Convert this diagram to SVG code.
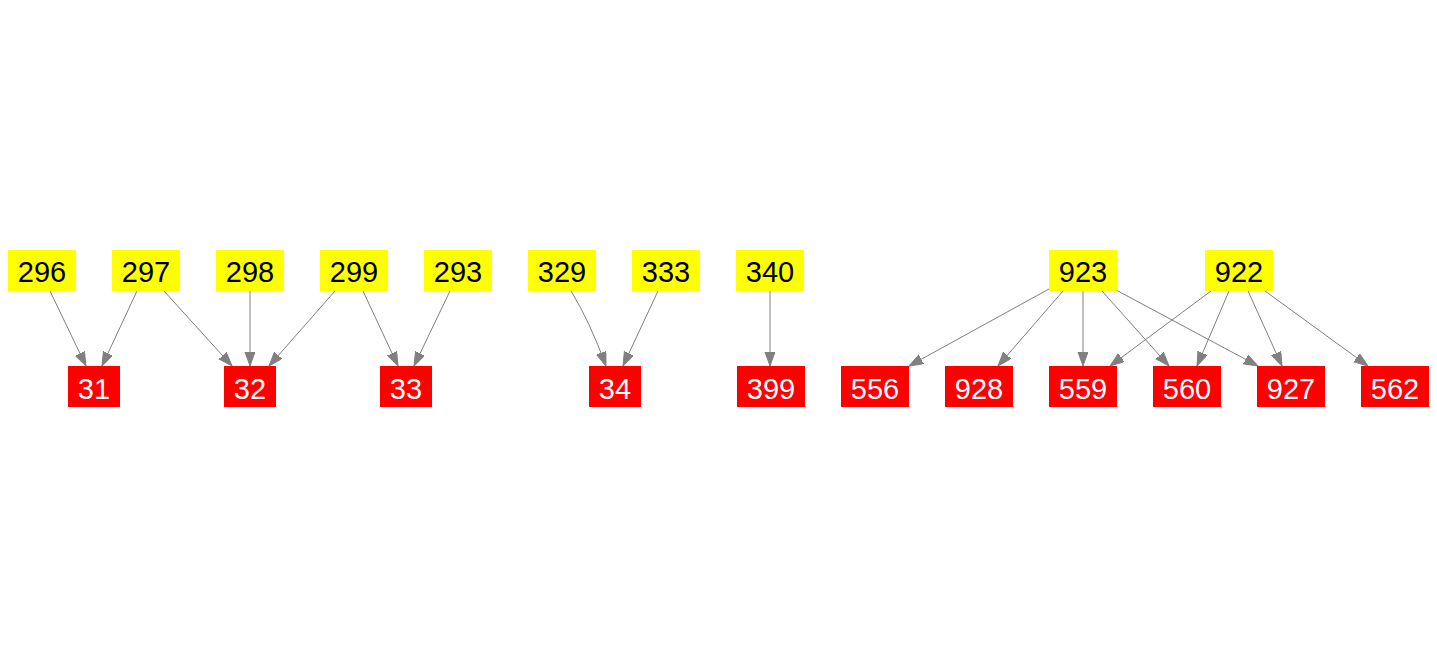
<svg xmlns="http://www.w3.org/2000/svg" width="1437" height="656" viewBox="0 0 1437 656">
<style>
.bg{fill:#ffffff}
.src rect{fill:#ffff00}
.dst rect{fill:#ff0000}
text{font-family:"Liberation Sans",Arial,sans-serif;font-size:29px;text-anchor:middle}
.src text{fill:#000000}
.dst text{fill:#ffffff}
#edges path{fill:none;stroke:#808080;stroke-width:1;marker-end:url(#ah)}
</style>
<defs>
<marker id="ah" markerUnits="userSpaceOnUse" markerWidth="16" markerHeight="12" refX="14" refY="5" orient="auto">
<path d="M0,0 L14,5 L0,10 z" fill="#808080" stroke="#808080" stroke-width="1"/>
</marker>
</defs>
<rect class="bg" x="0" y="0" width="1437" height="656"/>
<g id="edges">
<path d="M50,291 L86,366"/>
<path d="M137,291 L102,366"/>
<path d="M164,291 L232,366"/>
<path d="M250,291 L250,366"/>
<path d="M335,291 L269,366"/>
<path d="M363,291 L398,366"/>
<path d="M450,291 L414,366"/>
<path d="M571,291 Q590,322 606,366"/>
<path d="M658,291 L623,366"/>
<path d="M770,291 L770,366"/>
<path d="M1049,289 L909,366"/>
<path d="M1063,291 L998,366"/>
<path d="M1083,291 L1083,366"/>
<path d="M1102,291 L1169,366"/>
<path d="M1116,290 L1258,366"/>
<path d="M1211,291 L1110,366"/>
<path d="M1229,291 L1197,366"/>
<path d="M1248,291 L1282,366"/>
<path d="M1265,291 L1368,366"/>
</g>
<g id="n296" class="src"><rect x="8" y="250" width="68" height="41"/><text x="42" y="282">296</text></g>
<g id="n297" class="src"><rect x="112" y="250" width="68" height="41"/><text x="146" y="282">297</text></g>
<g id="n298" class="src"><rect x="216" y="250" width="68" height="41"/><text x="250" y="282">298</text></g>
<g id="n299" class="src"><rect x="320" y="250" width="68" height="41"/><text x="354" y="282">299</text></g>
<g id="n293" class="src"><rect x="424" y="250" width="68" height="41"/><text x="458" y="282">293</text></g>
<g id="n329" class="src"><rect x="528" y="250" width="68" height="41"/><text x="562" y="282">329</text></g>
<g id="n333" class="src"><rect x="632" y="250" width="68" height="41"/><text x="666" y="282">333</text></g>
<g id="n340" class="src"><rect x="736" y="250" width="68" height="41"/><text x="770" y="282">340</text></g>
<g id="n923" class="src"><rect x="1049" y="250" width="68" height="41"/><text x="1083" y="282">923</text></g>
<g id="n922" class="src"><rect x="1205" y="250" width="68" height="41"/><text x="1239" y="282">922</text></g>
<g id="n31" class="dst"><rect x="68" y="366" width="52" height="41"/><text x="94" y="399">31</text></g>
<g id="n32" class="dst"><rect x="224" y="366" width="52" height="41"/><text x="250" y="399">32</text></g>
<g id="n33" class="dst"><rect x="380" y="366" width="52" height="41"/><text x="406" y="399">33</text></g>
<g id="n34" class="dst"><rect x="589" y="366" width="52" height="41"/><text x="615" y="399">34</text></g>
<g id="n399" class="dst"><rect x="737" y="366" width="68" height="41"/><text x="771" y="399">399</text></g>
<g id="n556" class="dst"><rect x="841" y="366" width="68" height="41"/><text x="875" y="399">556</text></g>
<g id="n928" class="dst"><rect x="945" y="366" width="68" height="41"/><text x="979" y="399">928</text></g>
<g id="n559" class="dst"><rect x="1049" y="366" width="68" height="41"/><text x="1083" y="399">559</text></g>
<g id="n560" class="dst"><rect x="1153" y="366" width="68" height="41"/><text x="1187" y="399">560</text></g>
<g id="n927" class="dst"><rect x="1257" y="366" width="68" height="41"/><text x="1291" y="399">927</text></g>
<g id="n562" class="dst"><rect x="1361" y="366" width="68" height="41"/><text x="1395" y="399">562</text></g>
</svg>
